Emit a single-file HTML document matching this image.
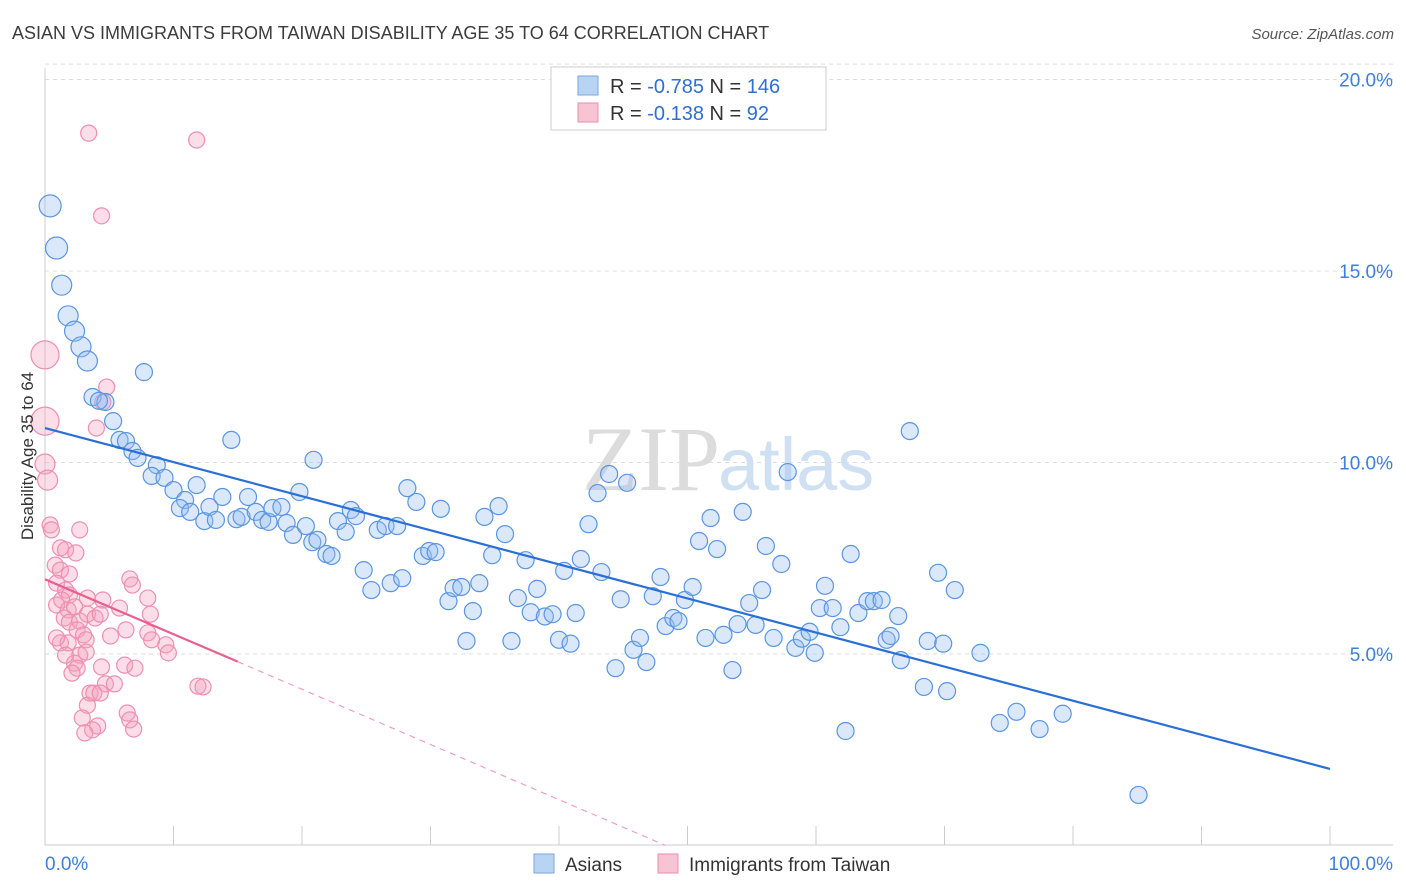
<!DOCTYPE html>
<html><head><meta charset="utf-8">
<style>
body{margin:0;background:#fff;font-family:"Liberation Sans",sans-serif;}
svg{display:block}
</style></head>
<body>
<svg id="chart" width="1406" height="892" viewBox="0 0 1406 892">
<text x="12" y="39" font-size="18" fill="#3c3c3c">ASIAN VS IMMIGRANTS FROM TAIWAN DISABILITY AGE 35 TO 64 CORRELATION CHART</text>
<text x="1394" y="39" font-size="15" fill="#555" font-style="italic" text-anchor="end">Source: ZipAtlas.com</text>
<text x="720" y="490" font-size="92" fill="#dcdcdc" text-anchor="end" font-family="Liberation Serif">ZIP</text>
<text x="718" y="490" font-size="74" fill="#cfe0f3">atlas</text>
<g id="grid"></g>
<g id="axes"></g>
<g id="pink"></g>
<g id="blue"></g>
<g id="lines"></g>
<text transform="translate(33,456) rotate(-90)" font-size="17" fill="#333" text-anchor="middle">Disability Age 35 to 64</text>
<g>
<rect x="551" y="67" width="275" height="63" fill="#fff" stroke="#ccc"/>
<rect x="578" y="76" width="20" height="19" fill="#b9d3f3" stroke="#7aa7e0"/>
<rect x="578" y="103" width="20" height="19" fill="#f8c3d3" stroke="#ea8fae"/>
<text x="610" y="93" font-size="20" fill="#333">R = <tspan fill="#2f6fd0">-0.785</tspan>   N = <tspan fill="#2f6fd0">146</tspan></text>
<text x="610" y="120" font-size="20" fill="#333">R =  <tspan fill="#2f6fd0">-0.138</tspan>   N =   <tspan fill="#2f6fd0">92</tspan></text>
</g>
<g>
<rect x="534" y="854" width="20" height="19" fill="#b9d3f3" stroke="#7aa7e0"/>
<text x="565" y="871" font-size="19" fill="#333">Asians</text>
<rect x="658" y="854" width="20" height="19" fill="#f8c3d3" stroke="#ea8fae"/>
<text x="689" y="871" font-size="19" fill="#333">Immigrants from Taiwan</text>
</g>
</svg>
<script>
const blueX=[0.4,0.9,1.3,1.8,2.3,2.8,3.3,7.7,3.7,4.7,4.2,5.3,5.8,6.3,14.5,6.8,7.2,8.7,8.3,9.3,20.9,10.0,10.9,10.5,11.8,11.3,12.4,12.8,13.3,13.8,14.9,15.3,15.8,16.4,16.9,17.4,17.7,18.4,18.8,19.3,19.8,20.3,20.8,21.2,21.9,22.3,22.8,23.4,23.8,24.2,24.8,25.4,25.9,26.5,26.9,27.4,27.8,28.2,28.9,29.4,29.9,30.4,30.8,31.4,31.8,32.4,32.8,33.3,33.8,34.2,34.8,35.3,35.8,36.3,36.8,37.4,37.8,38.3,38.9,39.5,40.0,40.4,40.9,41.3,41.7,42.3,43.0,43.3,43.9,44.4,44.8,45.3,45.8,46.3,46.8,47.3,47.9,48.3,48.9,49.3,49.8,50.4,50.9,51.4,51.8,52.3,52.8,53.5,53.9,54.3,54.8,55.3,55.8,56.1,56.7,57.3,57.8,58.4,58.9,59.5,59.9,60.3,60.7,61.3,61.9,62.3,62.7,63.3,64.0,64.5,65.1,65.5,65.8,66.4,66.6,67.3,68.4,68.7,69.5,69.9,70.2,70.8,72.8,74.3,75.6,77.4,79.2,85.1];
const blueY=[16.70,15.60,14.63,13.83,13.43,13.02,12.65,12.36,11.71,11.58,11.61,11.08,10.59,10.56,10.59,10.30,10.12,9.93,9.65,9.60,10.07,9.28,9.02,8.81,9.41,8.71,8.47,8.84,8.50,9.10,8.52,8.58,9.10,8.71,8.50,8.45,8.81,8.84,8.42,8.11,9.23,8.34,7.92,7.98,7.61,7.56,8.47,8.19,8.76,8.60,7.19,6.67,8.24,8.34,6.85,8.34,6.98,9.33,8.97,7.56,7.69,7.66,8.79,6.38,6.72,6.75,5.34,6.12,6.85,8.58,7.58,8.86,8.13,5.34,6.46,7.45,6.09,6.70,5.98,6.04,5.37,7.17,5.27,6.07,7.48,8.39,9.20,7.14,9.70,4.63,6.43,9.47,5.11,5.42,4.79,6.51,7.01,5.73,5.94,5.86,6.41,6.75,7.95,5.42,8.55,7.74,5.50,4.58,5.78,8.71,6.33,5.76,6.67,7.82,5.42,7.35,9.75,5.16,5.40,5.58,5.03,6.20,6.78,6.20,5.70,2.99,7.61,6.07,6.38,6.38,6.41,5.37,5.47,5.99,4.84,10.82,4.14,5.34,7.12,5.27,4.03,6.67,5.03,3.20,3.49,3.04,3.44,1.32];
const pinkX=[3.4,11.8,4.4,0,0,0,0.2,4.8,4.5,4.0,0.4,0.5,2.7,1.2,1.6,2.4,0.8,1.2,1.9,6.6,6.8,0.9,1.6,1.9,8.0,3.3,4.5,0.9,1.3,1.8,2.3,5.8,8.2,1.5,1.9,2.7,3.3,3.9,2.5,3.0,6.3,8.0,8.3,5.1,1.2,1.8,3.2,9.4,9.6,2.7,3.2,6.2,7.0,2.3,2.5,2.1,4.4,4.7,5.4,11.9,12.3,3.5,3.8,4.3,3.3,2.9,6.4,6.6,4.1,3.7,3.1,6.9,0.9,1.6,4.3];
const pinkY=[18.60,18.42,16.44,12.81,11.08,9.96,9.54,11.97,11.58,10.90,8.37,8.24,8.24,7.77,7.72,7.64,7.32,7.19,7.09,6.96,6.80,6.85,6.67,6.54,6.46,6.46,6.41,6.28,6.41,6.15,6.23,6.20,6.04,5.94,5.83,5.86,6.04,5.94,5.63,5.50,5.63,5.55,5.37,5.47,5.29,5.29,5.37,5.24,5.03,4.97,5.05,4.71,4.63,4.76,4.63,4.50,4.66,4.22,4.22,4.16,4.14,3.98,3.98,3.98,3.66,3.33,3.46,3.28,3.12,3.02,2.94,3.04,5.42,4.97,6.04];
const yTicks=[5,10,15,20];
const yTickLabels=["5.0%","10.0%","15.0%","20.0%"];
const xTicks=[0,10,20,30,40,50,60,70,80,90,100];
const blueLine=[[0,10.9],[100,2.0]];
const pinkLine=[[0,6.95],[15,4.8]];
const pinkDash=[[15,4.8],[48.3,0]];

const NS="http://www.w3.org/2000/svg";
const X0=45,X1=1330,Y0=845.5,YS=38.3;
function sx(v){return X0+(X1-X0)*v/100;}
function sy(v){return Y0-v*YS;}
function mk(tag,attrs,parent){const e=document.createElementNS(NS,tag);for(const k in attrs)e.setAttribute(k,attrs[k]);parent.appendChild(e);return e;}
const grid=document.getElementById('grid'),axes=document.getElementById('axes');
yTicks.forEach((t,i)=>{
  const l=mk('line',{x1:45,x2:1393,y1:sy(t),y2:sy(t),stroke:'#ddd','stroke-dasharray':'4,4'},grid);
  
  
  const tx=mk('text',{x:1393,y:sy(t)+7,'font-size':19,fill:'#3f7fd8','text-anchor':'end'},axes);
  tx.textContent=yTickLabels[i];
  
  
});
mk('line',{x1:45,x2:1393,y1:sy(20.4),y2:sy(20.4),stroke:'#ddd','stroke-dasharray':'4,4'},grid);
const ya=mk('line',{x1:45,x2:45,y1:68,y2:845,stroke:'#ccc'},axes);


const xa=mk('line',{x1:45,x2:1393,y1:845,y2:845,stroke:'#ccc'},axes);


xTicks.forEach(t=>{
  const l=mk('line',{x1:sx(t),x2:sx(t),y1:826,y2:845,stroke:'#ccc'},axes);
  
  
});
const xl0=mk('text',{x:45,y:870,'font-size':19,fill:'#3f7fd8'},axes);
xl0.textContent="0.0%";


const xl1=mk('text',{x:1393,y:870,'font-size':19,fill:'#3f7fd8','text-anchor':'end'},axes);
xl1.textContent="100.0%";



const pg=document.getElementById('pink');
pinkX.forEach((x,i)=>{
  const r=i<3?8:(i<5?14:(i<7?10:8));
  const c=mk('circle',{cx:sx(x),cy:sy(pinkY[i]),r:r,fill:'rgba(244,160,190,0.35)',stroke:'#ee8fb0','stroke-width':1.2},pg);
  
  
});
const bg=document.getElementById('blue');
blueX.forEach((x,i)=>{
  const r=i<2?11:(i<7?10:8.5);
  const c=mk('circle',{cx:sx(x),cy:sy(blueY[i]),r:r,fill:'rgba(150,190,240,0.35)',stroke:'#5b95e0','stroke-width':1.2},bg);
  
  
});
const lg=document.getElementById('lines');
const bl=mk('line',{x1:sx(blueLine[0][0]),y1:sy(blueLine[0][1]),x2:sx(blueLine[1][0]),y2:sy(blueLine[1][1]),stroke:'#2a6fd6','stroke-width':2.2},lg);


const pl=mk('line',{x1:sx(pinkLine[0][0]),y1:sy(pinkLine[0][1]),x2:sx(pinkLine[1][0]),y2:sy(pinkLine[1][1]),stroke:'#e8608f','stroke-width':2.2},lg);


const pd=mk('line',{x1:sx(pinkDash[0][0]),y1:sy(pinkDash[0][1]),x2:sx(pinkDash[1][0]),y2:sy(pinkDash[1][1]),stroke:'#f0a0bb','stroke-width':1.2,'stroke-dasharray':'6,5'},lg);


</script>
</body></html>
